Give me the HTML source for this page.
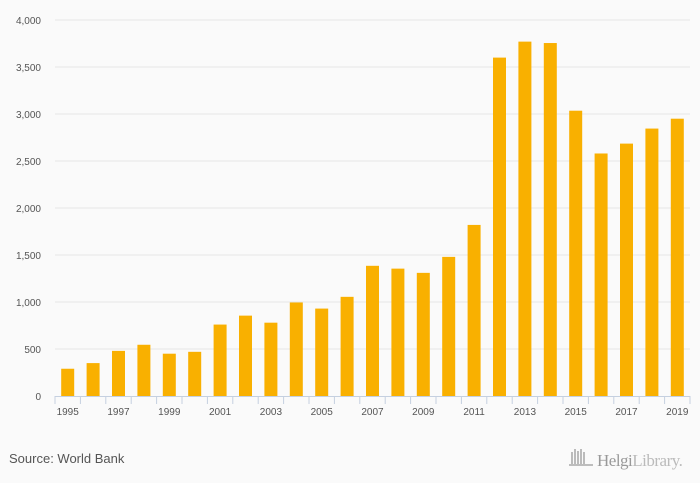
<!DOCTYPE html>
<html><head><meta charset="utf-8"><style>
body{margin:0;background:#fafafa;font-family:"Liberation Sans",sans-serif;}
svg{display:block}
</style></head><body>
<svg width="700" height="483">
<rect width="700" height="483" fill="#fafafa"/>
<g id="grid"></g><g id="bars"></g><g id="axis"></g>
<text x="9" y="463" font-size="13" fill="#555">Source: World Bank</text>
<g>
<g stroke="#999" stroke-width="1.3"><line x1="572" y1="452" x2="572" y2="464"/><line x1="575" y1="449" x2="575" y2="464"/><line x1="578" y1="451" x2="578" y2="464"/><line x1="581" y1="449" x2="581" y2="464"/><line x1="584" y1="452" x2="584" y2="464"/><line x1="569" y1="465" x2="593" y2="465"/></g>
<text x="597" y="466" font-size="17" fill="#999" font-family="Liberation Serif,serif" letter-spacing="-0.5">Helgi<tspan fill="#bbb">Library.</tspan></text>
</g>
</svg>
<script>
const years=[1995,1996,1997,1998,1999,2000,2001,2002,2003,2004,2005,2006,2007,2008,2009,2010,2011,2012,2013,2014,2015,2016,2017,2018,2019];
const values=[290,350,480,545,450,470,760,855,780,995,930,1055,1385,1355,1310,1480,1820,3600,3770,3755,3035,2580,2685,2845,2950];
const yTicks=[0,500,1000,1500,2000,2500,3000,3500,4000];
const yLabels=["0","500","1,000","1,500","2,000","2,500","3,000","3,500","4,000"];
const NS="http://www.w3.org/2000/svg";
const x0=55,x1=690,y0=396,yTop=20,maxV=4000;
const band=(x1-x0)/years.length;
const xs=i=>x0+band*(i+0.5);
const ys=v=>y0-(v/maxV)*(y0-yTop);
function mk(t,a,p){const e=document.createElementNS(NS,t);for(const k in a)e.setAttribute(k,a[k]);p.appendChild(e);return e;}
const g=document.getElementById('grid'),b=document.getElementById('bars'),ax=document.getElementById('axis');
yTicks.forEach((v,i)=>{
 if(v>0){const l=mk('line',{x1:x0,x2:x1,y1:ys(v),y2:ys(v),stroke:'#e6e6e6'},g);
 
 }
 const t=mk('text',{x:41,y:ys(v)+4,'text-anchor':'end','font-size':10,fill:'#555'},ax);
 t.textContent=yLabels[i];
 
 
});
values.forEach((v,i)=>{
 const r=mk('rect',{x:xs(i)-6.5,y:ys(v),width:13,height:y0-ys(v),fill:'#f9b000'},b);
 
 
});
mk('line',{x1:x0,x2:x1,y1:y0+0.5,y2:y0+0.5,stroke:'#c5d0e0'},ax);
for(let i=0;i<=years.length;i++){mk('line',{x1:x0+band*i,x2:x0+band*i,y1:y0,y2:y0+8,stroke:'#c5d0e0'},ax);}
years.forEach((y,i)=>{if(i%2===0){
 const t=mk('text',{x:xs(i),y:415,'text-anchor':'middle','font-size':10,fill:'#555'},ax);
 t.textContent=y;
 
 }});
</script>
</body></html>
